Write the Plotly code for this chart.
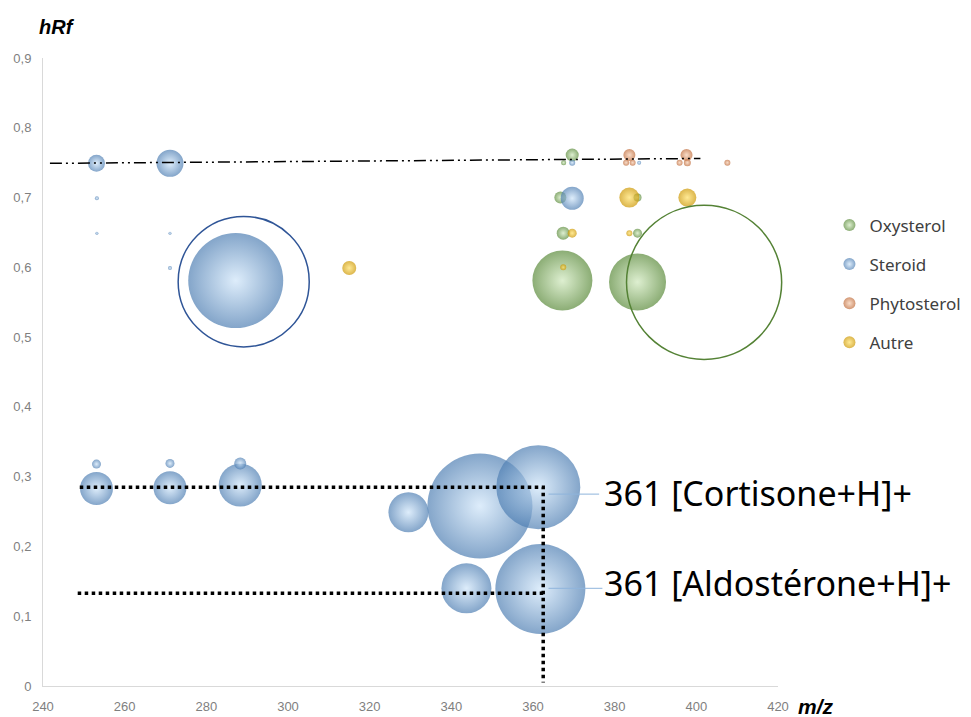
import plotly.graph_objects as go

# bubble data: m/z, hRf, bubble diameter (px)
oxy_mz = [369.6, 367.5, 366.7, 385.6, 367.4, 385.6, 367.2, 385.6]
oxy_hrf = [0.761, 0.75, 0.70, 0.70, 0.649, 0.649, 0.581, 0.579]
oxy_size = [13, 5, 12, 8, 13, 9, 60, 57]

ster_mz = [253.1, 271.1, 253.2, 253.2, 271.1, 271.1, 287.2, 369.6, 369.6, 386.0,
           253.1, 253.1, 271.1, 271.1, 288.3, 288.3, 329.5, 347.0, 361.3, 343.7, 361.8]
ster_hrf = [0.749, 0.749, 0.699, 0.649, 0.649, 0.599, 0.581, 0.699, 0.75, 0.75,
            0.283, 0.318, 0.284, 0.319, 0.288, 0.319, 0.249, 0.258, 0.285, 0.14, 0.139]
ster_size = [17, 27, 4, 3, 3, 4, 95, 23, 6, 4,
             33, 9, 33, 9, 43, 12, 40, 105, 84, 50, 90]

phyto_mz = [383.6, 382.8, 384.4, 397.6, 395.9, 397.8, 407.6]
phyto_hrf = [0.761, 0.75, 0.75, 0.761, 0.75, 0.75, 0.75]
phyto_size = [12, 6, 6, 12, 6, 7, 6]

autre_mz = [315.0, 383.6, 397.8, 369.6, 383.6, 367.4]
autre_hrf = [0.599, 0.70, 0.70, 0.649, 0.649, 0.600]
autre_size = [14, 20, 18, 9, 6, 6]

# reference lines
trend_mz = [241.7, 401.0]
trend_hrf = [0.749, 0.756]
cortisone_mz = [249.0, 362.5, 362.5]
cortisone_hrf = [0.285, 0.285, 0.005]
aldo_mz = [248.5, 362.5]
aldo_hrf = [0.133, 0.133]

X_MIN, X_MAX = 240, 420

series = [
    ('Oxysterol', oxy_mz, oxy_hrf, oxy_size, '#5A8A3A', '#CFE8BC'),
    ('Steroid', ster_mz, ster_hrf, ster_size, '#4F7FB3', '#CFE5F9'),
    ('Phytosterol', phyto_mz, phyto_hrf, phyto_size, '#BF6A38', '#F6CDB0'),
    ('Autre', autre_mz, autre_hrf, autre_size, '#CC9600', '#FFE066'),
]

fig = go.Figure()
for name, xs, ys, ss, col, hi in series:
    fig.add_trace(go.Scatter(
        x=xs, y=ys, mode='markers', name=name, legendgroup=name,
        marker=dict(size=ss, sizemode='diameter', color=col,
                    gradient=dict(type='radial', color=hi),
                    line=dict(width=0))
    ))

fig.add_trace(go.Scatter(x=trend_mz, y=trend_hrf, mode='lines', showlegend=False,
                         line=dict(color='black', width=1.5, dash='12px,4px,2px,4px,2px,4px')))
fig.add_trace(go.Scatter(x=cortisone_mz, y=cortisone_hrf, mode='lines', showlegend=False,
                         line=dict(color='black', width=3.5, dash='dot')))
fig.add_trace(go.Scatter(x=aldo_mz, y=aldo_hrf, mode='lines', showlegend=False,
                         line=dict(color='black', width=3.5, dash='dot')))


def px(v):
    # m/z value -> paper fraction (so the circle is not clipped at the axis end)
    return (v - X_MIN) / (X_MAX - X_MIN)


# highlight circles
fig.add_shape(type='circle', xref='paper', yref='y', x0=px(273.1), x1=px(305.2), y0=0.486, y1=0.673,
              line=dict(color='#2F5597', width=1.5))
fig.add_shape(type='circle', xref='paper', yref='y', x0=px(382.9), x1=px(420.9), y0=0.468, y1=0.689,
              line=dict(color='#548235', width=1.5))

# leader lines + labels
fig.add_shape(type='line', xref='x', yref='y', x0=363.8, x1=376.2, y0=0.275, y1=0.275,
              line=dict(color='#8FB4DC', width=1))
fig.add_shape(type='line', xref='x', yref='y', x0=363.8, x1=377.0, y0=0.140, y1=0.140,
              line=dict(color='#8FB4DC', width=1))
fig.add_annotation(x=377.0, y=0.276, xref='x', yref='y', text='361 [Cortisone+H]+',
                   showarrow=False, xanchor='left', yanchor='middle',
                   font=dict(family='Noto Sans', size=34, color='black'))
fig.add_annotation(x=377.0, y=0.148, xref='x', yref='y', text='361 [Aldostérone+H]+',
                   showarrow=False, xanchor='left', yanchor='middle',
                   font=dict(family='Noto Sans', size=34, color='black'))

# axis titles
fig.add_annotation(x=-0.008, y=1.049, xref='paper', yref='paper', text='<b><i>hRf</i></b>',
                   showarrow=False, xanchor='left', yanchor='middle',
                   font=dict(family='Liberation Sans', size=20, color='black'))
fig.add_annotation(x=1.024, y=-0.033, xref='paper', yref='paper', text='<b><i>m/z</i></b>',
                   showarrow=False, xanchor='left', yanchor='middle',
                   font=dict(family='Liberation Sans', size=21, color='black'))

y_ticks = [0, 0.1, 0.2, 0.3, 0.4, 0.5, 0.6, 0.7, 0.8, 0.9]
y_labels = ['0', '0,1', '0,2', '0,3', '0,4', '0,5', '0,6', '0,7', '0,8', '0,9']

fig.update_layout(
    width=971, height=717,
    margin=dict(l=43, r=193, t=58, b=31, autoexpand=False),
    plot_bgcolor='white', paper_bgcolor='white',
    font=dict(family='Liberation Sans Narrow, Liberation Sans, sans-serif', color='#808080', size=13),
    xaxis=dict(range=[X_MIN, X_MAX], tick0=240, dtick=20, showgrid=False, zeroline=False,
               showline=True, linecolor='#D9D9D9', linewidth=1, ticks='', ticklabelstandoff=8,
               automargin=False, tickfont=dict(size=13, color='#7F7F7F')),
    yaxis=dict(range=[0, 0.9], tickvals=y_ticks, ticktext=y_labels, showgrid=False, zeroline=False,
               showline=True, linecolor='#D9D9D9', linewidth=1, ticks='', ticklabelstandoff=8,
               automargin=False, tickfont=dict(size=13, color='#7F7F7F')),
    legend=dict(x=1.07, y=0.762, xanchor='left', yanchor='top', traceorder='grouped',
                tracegroupgap=14, itemsizing='constant',
                font=dict(family='Noto Sans', size=17, color='#404040')),
    showlegend=True,
)

# drop the default page margin so the figure sits at the window origin
fig.write_html("out.html", config={'displayModeBar': False},
               post_script="document.body.style.margin='0';document.body.style.overflow='hidden';")
